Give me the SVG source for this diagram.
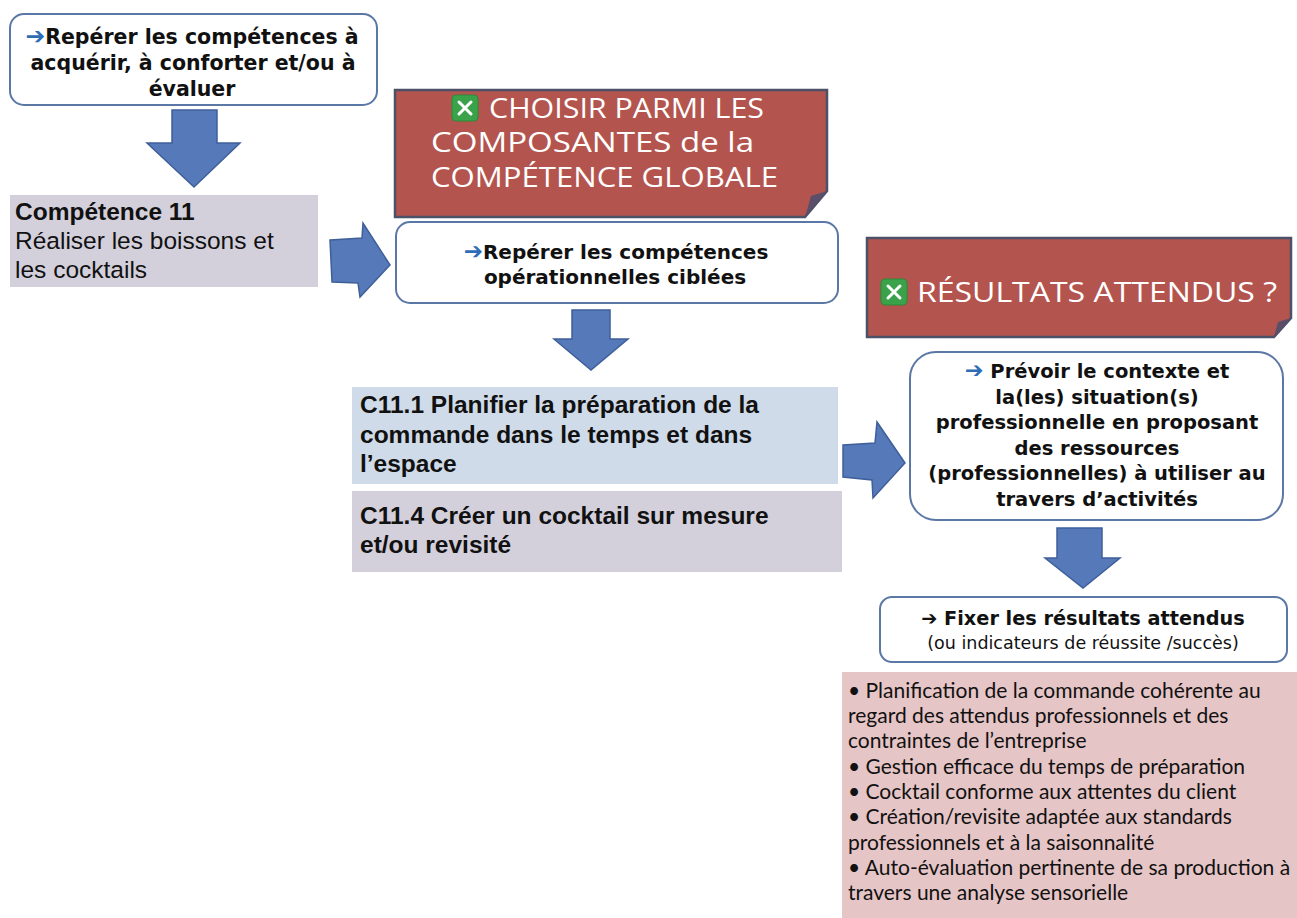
<svg xmlns="http://www.w3.org/2000/svg" width="1297" height="918" viewBox="0 0 1297 918">
<style>
.rbox{fill:#fff;stroke:#5b77a6;stroke-width:2}
.red{fill:#b3554e;stroke:#4d5168;stroke-width:2.5}
.fold{fill:#5a4e68}
.arrow{fill:#5679b9;stroke:#3f5f99;stroke-width:1.5;stroke-linejoin:miter}
.b{font-family:"DejaVu Sans",sans-serif;font-weight:700;font-size:19.5px;fill:#111;text-anchor:middle}
.w{font-family:"Open Sans","DejaVu Sans",sans-serif;font-size:28px;fill:#fff}
.a{font-family:"Liberation Sans",Arial,sans-serif;font-size:24.5px;fill:#111}
.ab{font-weight:700}
.c{font-family:Lato,"Open Sans",sans-serif;font-size:21px;fill:#111}
.bl{fill:#2e6db5;font-size:1.15em}
.ico{fill:#3aa34a;stroke:#2d8a3a;stroke-width:1}
.x{stroke:#fff;stroke-width:3;stroke-linecap:round}
</style>
<rect width="1297" height="918" fill="#fff"/>
<g id="connectors">
<path class="arrow" d="M172,110 H217 V143 H240 L194,187 L147,143 H172 Z"/>
<path class="arrow" d="M330,240 L362,238 L363,223 L390,265 L360,297 L358,283 L332,282 Z"/>
<path class="arrow" d="M572,310 H610 V339 H628 L591,370 L554,339 H572 Z"/>
<path class="arrow" d="M843,445 L875,443 L877,422 L905,463 L873,498 L872,480 L843,477 Z"/>
<path class="arrow" d="M1057,528 H1102 V558 H1120 L1083,588 L1045,558 H1057 Z"/>
</g>
<g id="node-reperer">
<rect class="rbox" x="10" y="14" width="367" height="91" rx="14"/>
<text class="b" x="192" y="44" style="font-size:20.5px"><tspan class="bl">➔</tspan>Repérer les compétences à</text>
<text class="b" x="193" y="70" style="font-size:20.5px">acquérir, à conforter et/ou à</text>
<text class="b" x="192" y="96" style="font-size:20.5px">évaluer</text>
</g>
<g id="node-competence11">
<rect x="10" y="195" width="308" height="92" fill="#d3d0dc"/>
<text class="a ab" x="15" y="220">Compétence 11</text>
<text class="a" x="15" y="249">Réaliser les boissons et</text>
<text class="a" x="15" y="278">les cocktails</text>
</g>
<g id="node-choisir">
<path class="red" d="M395,90 H827 V191 L805,217 H395 Z"/>
<path class="fold" d="M827,191 L805,217 L811,196 Z"/>
<rect class="ico" x="452" y="95" width="26" height="26" rx="4"/>
<path class="x" d="M459,102 L471,114 M471,102 L459,114"/>
<text class="w" x="489" y="118" textLength="275" lengthAdjust="spacingAndGlyphs">CHOISIR PARMI LES</text>
<text class="w" x="431" y="152" textLength="323" lengthAdjust="spacingAndGlyphs">COMPOSANTES de la</text>
<text class="w" x="431" y="187" textLength="347" lengthAdjust="spacingAndGlyphs">COMPÉTENCE GLOBALE</text>
</g>
<g id="node-operationnelles">
<rect class="rbox" x="396" y="222" width="442" height="81" rx="14"/>
<text class="b" x="616" y="259" style="font-size:20px"><tspan class="bl">➔</tspan>Repérer les compétences</text>
<text class="b" x="615" y="284" style="font-size:20px">opérationnelles ciblées</text>
</g>
<g id="node-c111">
<rect x="352" y="387" width="486" height="97" fill="#cfdbe9"/>
<text class="a ab" x="360" y="413">C11.1 Planifier la préparation de la</text>
<text class="a ab" x="360" y="443">commande dans le temps et dans</text>
<text class="a ab" x="360" y="472">l’espace</text>
</g>
<g id="node-c114">
<rect x="352" y="491" width="490" height="81" fill="#d3d0dc"/>
<text class="a ab" x="360" y="524">C11.4 Créer un cocktail sur mesure</text>
<text class="a ab" x="360" y="553">et/ou revisité</text>
</g>
<g id="node-resultats">
<path class="red" d="M867,238 H1291 V318 L1274,337 H867 Z"/>
<path class="fold" d="M1291,318 L1274,337 L1278,322 Z"/>
<rect class="ico" x="881" y="279" width="26" height="26" rx="4"/>
<path class="x" d="M888,286 L900,298 M900,286 L888,298"/>
<text class="w" x="917" y="302" textLength="360" lengthAdjust="spacingAndGlyphs">RÉSULTATS ATTENDUS ?</text>
</g>
<g id="node-prevoir">
<rect class="rbox" x="910" y="352" width="373" height="168" rx="26"/>
<text class="b" x="1097" y="378"><tspan class="bl">➔</tspan> Prévoir le contexte et</text>
<text class="b" x="1097" y="404">la(les) situation(s)</text>
<text class="b" x="1097" y="429">professionnelle en proposant</text>
<text class="b" x="1097" y="455">des ressources</text>
<text class="b" x="1097" y="480">(professionnelles) à utiliser au</text>
<text class="b" x="1097" y="506">travers d’activités</text>
</g>
<g id="node-fixer">
<rect class="rbox" x="880" y="597" width="407" height="65" rx="12"/>
<text class="b" x="1083" y="625" style="font-size:19.3px">➔ Fixer les résultats attendus</text>
<text class="b" x="1083" y="649" style="font-weight:400;font-size:17.5px">(ou indicateurs de réussite /succès)</text>
</g>
<g id="node-indicateurs">
<rect x="842" y="672" width="455" height="246" fill="#e6c5c6"/>
<text class="c" x="848" y="698">• Planification de la commande cohérente au</text>
<text class="c" x="848" y="723">regard des attendus professionnels et des</text>
<text class="c" x="848" y="748">contraintes de l’entreprise</text>
<text class="c" x="848" y="774">• Gestion efficace du temps de préparation</text>
<text class="c" x="848" y="799">• Cocktail conforme aux attentes du client</text>
<text class="c" x="848" y="824">• Création/revisite adaptée aux standards</text>
<text class="c" x="848" y="850">professionnels et à la saisonnalité</text>
<text class="c" x="848" y="875">• Auto-évaluation pertinente de sa production à</text>
<text class="c" x="848" y="900">travers une analyse sensorielle</text>
</g>
</svg>
